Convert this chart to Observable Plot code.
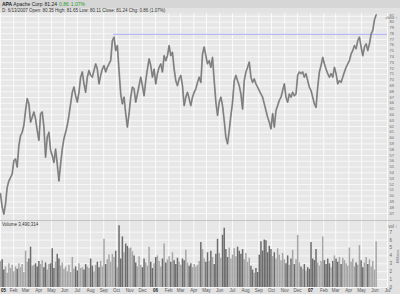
<!DOCTYPE html>
<html><head><meta charset="utf-8">
<script src="https://cdn.jsdelivr.net/npm/d3@7"></script>
<script src="https://cdn.jsdelivr.net/npm/@observablehq/plot@0.6"></script>
<style>
html,body{margin:0;padding:0;background:#e2e2e2;}
#wrap{position:relative;width:400px;height:294px;overflow:hidden;font-family:"Liberation Sans",Arial,sans-serif;}
#hdr{position:absolute;left:0;top:0;width:400px;height:8px;background:#d6d6d6;font-size:5px;line-height:8px;color:#222;white-space:nowrap;}
#hdr span{margin-left:2px;}
#sub{position:absolute;left:2px;top:8px;font-size:4.5px;line-height:5px;color:#333;white-space:nowrap;}
#pp{position:absolute;left:0;top:13px;}
#sep{position:absolute;left:0;top:220px;width:400px;height:1px;background:#c4c4c4;}
#vp{position:absolute;left:0;top:221px;}
#vh{position:absolute;left:2px;top:222px;font-size:4.5px;line-height:5px;color:#333;white-space:nowrap;}
</style></head>
<body><div id="wrap">
<div id="hdr"><span><b>APA</b> Apache Corp</span><span>81.24</span><span style="color:#2b9a2b">0.86</span><span style="color:#2b9a2b">1.07%</span></div>
<div id="sub">D: 6/13/2007 Open: 80.35 High: 81.65 Low: 80.11 Close: 81.24 Chg: 0.86 (1.07%)</div>
<div id="pp"></div>
<div id="sep"></div>
<div id="vp"></div>
<div id="vh">Volume 3,490,314</div>
</div>
<script>
// ~4-day samples, Jan 2005 - Jun 2007
const closes = [
50.4,48.1,46.9,48.65,51.5,52.6,53.2,53.8,56.1,56.4,
55.0,58.7,60.4,61.0,62.2,64.75,66.8,65.9,62.75,63.6,
64.5,63.3,61.3,59.6,64.2,64.5,61.9,56.7,60.15,61.0,
57.85,57.0,55.8,58.1,55.5,52.6,55.5,58.1,59.9,61.0,
62.2,63.9,65.9,67.9,68.8,67.3,66.2,67.9,70.5,71.4,
69.35,67.9,70.5,71.65,70.8,70.5,71.65,72.8,71.9,69.35,
70.8,71.9,72.5,71.4,72.2,72.8,73.35,76.8,77.4,75.1,
75.95,71.65,67.6,65.9,67.05,64.2,61.9,64.2,67.05,68.8,
68.5,66.2,67.6,69.05,70.5,69.05,67.3,69.9,71.9,73.65,
72.5,70.5,71.9,69.35,71.1,72.2,72.8,71.4,74.2,73.35,
74.2,75.95,74.2,74.8,71.9,69.9,69.05,70.2,70.8,69.05,
65.6,67.05,67.9,66.8,65.6,67.05,67.9,68.5,69.6,70.5,
69.6,
74.5,75.7,74.2,72.8,73.35,72.2,73.9,69.9,66.2,63.9,
66.2,67.05,65.6,63.0,60.15,59.0,61.3,63.9,66.2,69.9,
70.8,69.9,69.05,67.6,65.0,69.9,71.4,72.2,73.1,70.5,
69.6,70.2,69.35,68.8,68.2,67.6,67.05,65.9,64.75,63.6,
62.75,61.6,64.2,61.9,64.75,65.6,66.5,67.05,68.2,69.35,
67.05,66.2,67.6,67.05,67.9,67.3,67.6,70.8,71.4,71.1,
71.4,70.5,71.1,69.9,68.8,68.2,67.05,65.9,65.3,68.8,
71.4,72.5,73.9,72.8,71.9,71.1,70.5,71.1,70.5,72.2,
71.1,69.35,69.9,69.6,70.5,71.4,72.2,72.8,73.35,74.5,
75.1,75.95,75.4,76.8,77.4,75.7,74.2,75.7,76.25,75.1,
76.25,77.95,78.55,80.4,81.24
];
// volume, millions
const volumes = [
3.3,3.5,2.2,2.6,1.8,3.0,2.4,2.8,2.0,2.6,
2.3,3.0,2.5,2.9,1.9,4.6,3.2,3.6,5.1,2.7,
2.8,3.0,2.6,3.3,2.9,3.4,2.5,3.1,2.2,2.9,
3.0,4.9,2.4,3.2,4.2,3.6,2.7,3.1,2.3,2.6,
2.0,2.8,1.9,3.8,2.3,2.6,2.1,3.0,2.4,2.5,
2.2,2.9,2.6,2.4,3.6,2.7,2.0,2.8,3.2,2.5,
3.3,2.6,6.1,2.9,3.5,4.1,3.2,4.2,3.8,4.6,
2.5,7.8,3.6,6.4,4.4,5.5,5.2,4.9,5.0,4.5,
4.0,3.1,2.6,3.9,2.8,2.5,3.6,3.1,2.7,5.1,
3.2,2.4,3.0,3.8,4.0,3.3,2.6,3.6,5.5,3.1,
3.5,3.9,3.2,4.4,3.4,2.9,3.7,3.2,2.8,3.6,
3.4,4.7,3.1,2.7,3.0,2.5,2.9,2.6,2.8,3.3,
5.7,4.8,3.6,3.2,4.4,3.3,4.6,3.8,2.9,4.2,
6.1,4.3,3.7,6.6,7.5,4.8,3.8,5.0,3.6,4.1,
4.9,3.9,5.1,4.6,4.2,4.8,3.5,4.3,3.2,3.7,
2.7,2.2,1.8,2.4,1.9,4.1,5.8,4.6,6.0,5.9,
4.4,5.2,4.8,3.9,4.4,3.6,4.9,4.1,3.4,4.3,
3.5,3.0,4.0,2.8,3.6,4.7,2.9,3.5,6.6,3.1,
2.6,2.3,2.9,2.1,2.5,2.3,5.7,3.6,3.4,4.8,
3.1,2.7,3.3,6.4,3.4,2.9,3.6,3.0,2.5,3.3,
4.0,3.6,3.2,3.8,2.9,3.7,3.4,3.0,2.7,5.0,
3.2,3.6,2.6,3.1,2.8,5.3,3.4,2.5,3.1,3.8,
2.9,3.5,2.6,3.3,2.2,5.8
];
const sampleStart = "2005-01-01";
const sampleStepDays = 3.93;
const priceTicks = [47,48,49,50,51,52,53,54,55,56,57,58,59,60,61,62,63,64,65,66,67,68,69,70,71,72,73,74,75,76,77,78,79,80,81];
const volTicks = [0,1,2,3,4,5,6,7];
const monthLabels = ["05","Feb","Mar","Apr","May","Jun","Jul","Aug","Sep","Oct","Nov","Dec",
                     "06","Feb","Mar","Apr","May","Jun","Jul","Aug","Sep","Oct","Nov","Dec",
                     "07","Feb","Mar","Apr","May","Jun","Jul"];
const resistanceLevel = [77.9];
const resistanceSpan = ["2005-09-24","2007-07-01"];

const t0 = new Date(sampleStart).getTime();
const dates = closes.map((_, i) => new Date(t0 + i * sampleStepDays * 864e5));
const priceRows = closes.map((c, i) => ({date: dates[i], close: c}));
const volRows = volumes.map((v, i) => ({date: dates[i], vol: v, up: i === 0 || closes[i] >= closes[i - 1]}));
const xDomain = [new Date("2005-01-01"), new Date("2007-07-01")];
const monthDates = d3.utcMonth.range(new Date("2005-01-01"), new Date("2007-07-02"));
const labelOf = d => monthLabels[monthDates.findIndex(m => +m === +d)];
const firstDate = monthDates.slice(0, 1);
const janDates = monthDates.filter((d, i) => i > 0 && d.getUTCMonth() === 0);
const otherDates = monthDates.filter(d => d.getUTCMonth() !== 0);

const pricePlot = Plot.plot({
  width: 400, height: 207, marginTop: 0, marginBottom: 0, marginLeft: 0, marginRight: 13,
  style: {background: "none", fontFamily: "Liberation Sans, Arial, sans-serif"},
  x: {type: "utc", domain: xDomain, axis: null},
  y: {domain: [45.79, 81.48], axis: null},
  marks: [
    Plot.frame({fill: "#e7e7e7", stroke: "none"}),
    Plot.gridX(monthDates, {stroke: "#fbfbfb", strokeOpacity: 1, strokeWidth: 1}),
    Plot.gridY(priceTicks, {stroke: "#fbfbfb", strokeOpacity: 1, strokeWidth: 0.8}),
    Plot.ruleY(resistanceLevel, {x1: new Date(resistanceSpan[0]), x2: new Date(resistanceSpan[1]), stroke: "#a8a8f0", strokeWidth: 1}),
    Plot.line(priceRows, {x: "date", y: "close", stroke: "#9a9a9a", strokeWidth: 1.8}),
    Plot.line(priceRows, {x: "date", y: "close", stroke: "#666", strokeWidth: 0.6}),
    Plot.axisY(priceTicks, {anchor: "right", tickSize: 0, tickPadding: 2, fontSize: 3.9, fill: "#666", textAnchor: "start", lineHeight: 0.9})
  ]
});
document.getElementById("pp").appendChild(pricePlot);

const volPlot = Plot.plot({
  width: 400, height: 73, marginTop: 0, marginBottom: 7, marginLeft: 0, marginRight: 13,
  style: {background: "none", fontFamily: "Liberation Sans, Arial, sans-serif"},
  x: {type: "utc", domain: xDomain, axis: null},
  y: {domain: [0, 8.35], axis: null},
  marks: [
    Plot.frame({fill: "#e7e7e7", stroke: "none"}),
    Plot.gridX(monthDates, {stroke: "#fbfbfb", strokeOpacity: 1, strokeWidth: 1}),
    Plot.gridY(volTicks, {stroke: "#fbfbfb", strokeOpacity: 1, strokeWidth: 0.8}),
    Plot.ruleX(volRows.filter(d => d.up), {x: "date", y1: 0, y2: "vol", stroke: "#a6a6a6", strokeWidth: 1.5}),
    Plot.ruleX(volRows.filter(d => !d.up), {x: "date", y1: 0, y2: "vol", stroke: "#6c6c6c", strokeWidth: 1.5}),
    Plot.axisY(volTicks, {anchor: "right", tickSize: 0, tickPadding: 2, fontSize: 4.5, fill: "#666", textAnchor: "start"}),
    Plot.text(["Millions"], {frameAnchor: "right", dx: 10, dy: -5, rotate: -90, fontSize: 4, fill: "#666"}),
    Plot.axisX(otherDates, {tickSize: 0, tickPadding: 1.5, fontSize: 4.5, fill: "#555", tickFormat: labelOf}),
    Plot.axisX(janDates, {tickSize: 0, tickPadding: 1.5, fontSize: 4.5, fill: "#222", fontWeight: "bold", tickFormat: labelOf}),
    Plot.axisX(firstDate, {tickSize: 0, tickPadding: 1.5, fontSize: 4.5, fill: "#222", fontWeight: "bold", textAnchor: "start", dx: 0.5, tickFormat: labelOf})
  ]
});
document.getElementById("vp").appendChild(volPlot);
</script>
</body></html>
